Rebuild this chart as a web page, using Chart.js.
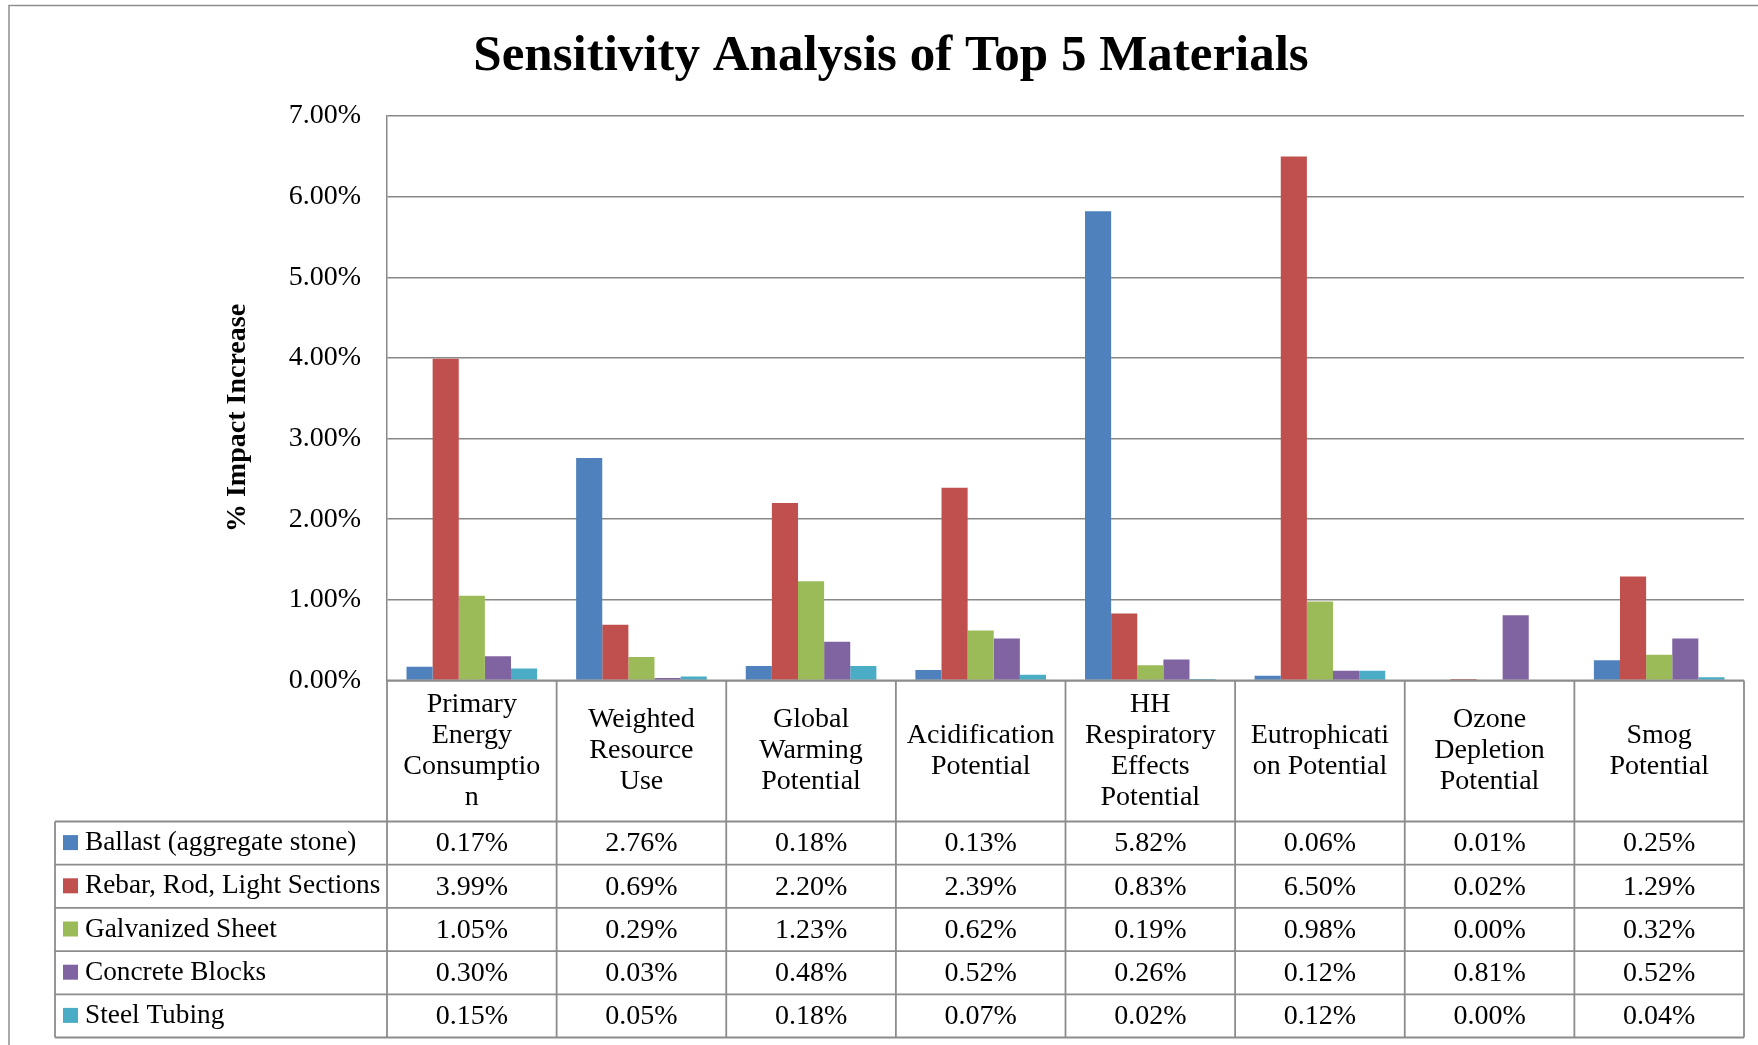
<!DOCTYPE html>
<html>
<head>
<meta charset="utf-8">
<title>Sensitivity Analysis of Top 5 Materials</title>
<script src="https://cdn.jsdelivr.net/npm/chart.js@4.4.0/dist/chart.umd.min.js"></script>
<style>
  html, body { margin: 0; padding: 0; background: #fff; }
  #wrap { width: 1758px; height: 1045px; position: relative; }
</style>
</head>
<body>
<div id="wrap"><canvas id="sensChart" width="1758" height="1045"></canvas></div>
<script>
// Categories (impact types) and how Excel wrapped them in the table header
const categories = [
    "Primary Energy Consumption", "Weighted Resource Use", "Global Warming Potential",
    "Acidification Potential", "HH Respiratory Effects Potential", "Eutrophication Potential",
    "Ozone Depletion Potential", "Smog Potential"
];
const categoryLines = [
    ["Primary", "Energy", "Consumptio", "n"],
    ["Weighted", "Resource", "Use"],
    ["Global", "Warming", "Potential"],
    ["Acidification", "Potential"],
    ["HH", "Respiratory", "Effects", "Potential"],
    ["Eutrophicati", "on Potential"],
    ["Ozone", "Depletion", "Potential"],
    ["Smog", "Potential"]
];

// Series values (% impact increase)
const ballast = [0.17, 2.76, 0.18, 0.13, 5.82, 0.06, 0.01, 0.25];
const rebar = [3.99, 0.69, 2.20, 2.39, 0.83, 6.50, 0.02, 1.29];
const galvanized = [1.05, 0.29, 1.23, 0.62, 0.19, 0.98, 0.00, 0.32];
const concrete = [0.30, 0.03, 0.48, 0.52, 0.26, 0.12, 0.81, 0.52];
const steelTubing = [0.15, 0.05, 0.18, 0.07, 0.02, 0.12, 0.00, 0.04];

const seriesNames = ["Ballast (aggregate stone)", "Rebar, Rod, Light Sections", "Galvanized Sheet", "Concrete Blocks", "Steel Tubing"];
const seriesColors = ["#4F81BD", "#C0504D", "#9BBB59", "#8064A2", "#4BACC6"];
const seriesData = [ballast, rebar, galvanized, concrete, steelTubing];

// Y axis ticks
const yMin = 0;
const yMax = 7;
const yStep = 1;
const yTitle = "% Impact Increase";

const FONT = "'Liberation Serif', 'Times New Roman', serif";
const LINE = "#8c8c8c";

// Data table under the plot, drawn from the same arrays and the x scale
const dataTable = {
    id: "dataTable",
    beforeDraw(chart) {
        const c = chart.ctx;
        // outer chart border
        c.save();
        c.strokeStyle = "#8f8f8f";
        c.lineWidth = 1.5;
        c.strokeRect(9, 5.5, 1800, 1100);
        c.restore();
    },
    afterDraw(chart) {
        const { ctx: c, chartArea: area, scales: { x } } = chart;
        const colW = (area.right - area.left) / categories.length;
        const top = area.bottom;
        const headBottom = top + 141;
        const rowH = 43.2;
        const bottom = headBottom + rowH * seriesData.length;
        const legendLeft = 55;

        c.save();
        // y axis title (Excel centres it a little lower than the plot middle)
        c.save();
        c.translate(238, 418);
        c.rotate(-Math.PI / 2);
        c.fillStyle = "#000";
        c.font = "bold 28px " + FONT;
        c.textAlign = "center";
        c.textBaseline = "middle";
        c.fillText(yTitle, 0, 0);
        c.restore();

        c.strokeStyle = LINE;
        c.lineWidth = 1.8;

        // horizontal lines
        c.beginPath();
        c.moveTo(area.left, top);
        c.lineTo(area.right, top);
        for (let r = 0; r <= seriesData.length; r++) {
            const y = headBottom + r * rowH;
            c.moveTo(legendLeft, y);
            c.lineTo(area.right, y);
        }
        // vertical lines
        for (let i = 0; i <= categories.length; i++) {
            const xx = i < categories.length ? x.getPixelForValue(i) - colW / 2 : x.getPixelForValue(i - 1) + colW / 2;
            c.moveTo(xx, top);
            c.lineTo(xx, bottom);
        }
        c.moveTo(legendLeft, headBottom);
        c.lineTo(legendLeft, bottom);
        c.stroke();

        // header labels
        c.fillStyle = "#000";
        c.font = "28px " + FONT;
        c.textAlign = "center";
        c.textBaseline = "middle";
        const lh = 31;
        const headMid = (top + headBottom) / 2;
        categoryLines.forEach((lines, i) => {
            const cx = x.getPixelForValue(i);
            const y0 = headMid - (lines.length - 1) * lh / 2;
            lines.forEach((t, k) => c.fillText(t, cx, y0 + k * lh));
        });

        // rows: legend key + name + values
        seriesData.forEach((vals, r) => {
            const cy = headBottom + r * rowH + rowH / 2;
            c.fillStyle = seriesColors[r];
            c.fillRect(63, cy - 8, 15, 15);
            c.fillStyle = "#000";
            c.textAlign = "left";
            c.font = "27.3px " + FONT;
            c.fillText(seriesNames[r], 85, cy);
            c.font = "28px " + FONT;
            c.textAlign = "center";
            vals.forEach((v, i) => c.fillText(v.toFixed(2) + "%", x.getPixelForValue(i), cy + 1));
        });
        c.restore();
    }
};

const ctx = document.getElementById("sensChart").getContext("2d");
const chart = new Chart(ctx, {
    type: "bar",
    data: {
        labels: categories,
        datasets: seriesData.map((d, i) => ({
            label: seriesNames[i],
            data: d,
            backgroundColor: seriesColors[i],
            borderWidth: 0,
            categoryPercentage: 0.77,
            barPercentage: 1.0
        }))
    },
    options: {
        responsive: false,
        animation: false,
        layout: { padding: { left: 38, right: 14, top: 0, bottom: 364.5 } },
        plugins: {
            legend: { display: false },
            tooltip: { enabled: false },
            title: {
                display: true,
                text: "Sensitivity Analysis of Top 5 Materials",
                color: "#000",
                font: { family: FONT, size: 51, weight: "bold", lineHeight: 1.2 },
                padding: { top: 26, bottom: 28.9 }
            }
        },
        scales: {
            x: { display: false },
            y: {
                min: yMin,
                max: yMax,
                afterFit(scale) { scale.width = 349; },
                ticks: {
                    stepSize: yStep,
                    color: "#000",
                    padding: 26,
                    font: { family: FONT, size: 28 },
                    callback: v => v.toFixed(2) + "%"
                },
                grid: { color: "#888", lineWidth: 1.5, drawTicks: false },
                border: { color: "#888", width: 1.5 }
            }
        }
    },
    plugins: [dataTable]
});
</script>
</body>
</html>
